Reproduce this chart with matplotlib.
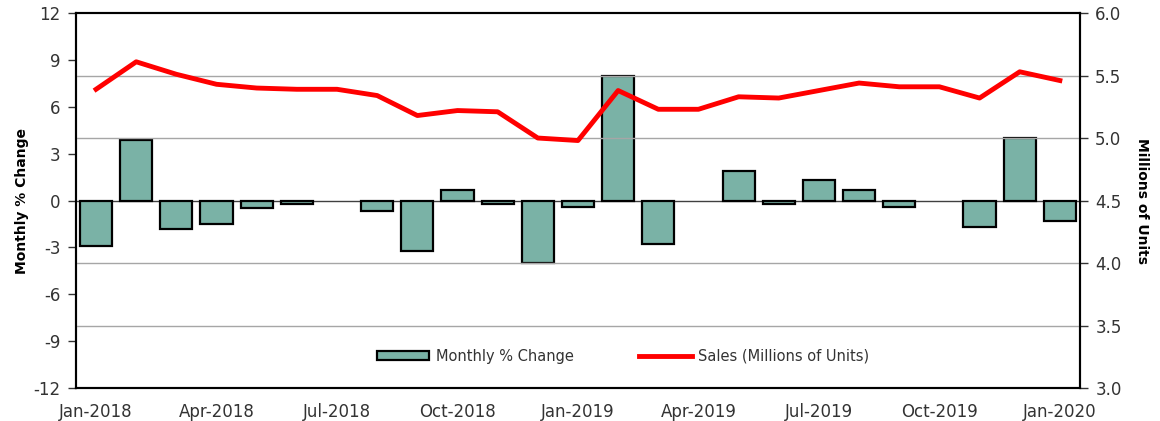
import matplotlib
matplotlib.use("agg")
import matplotlib.pyplot as plt
import numpy as np

# monthly data, Jan-2018 .. Jan-2020
months = ["Jan-2018", "Feb-2018", "Mar-2018", "Apr-2018", "May-2018", "Jun-2018",
          "Jul-2018", "Aug-2018", "Sep-2018", "Oct-2018", "Nov-2018", "Dec-2018",
          "Jan-2019", "Feb-2019", "Mar-2019", "Apr-2019", "May-2019", "Jun-2019",
          "Jul-2019", "Aug-2019", "Sep-2019", "Oct-2019", "Nov-2019", "Dec-2019",
          "Jan-2020"]
pct_change = [-2.9, 3.9, -1.8, -1.5, -0.5, -0.2, 0.0, -0.7, -3.2, 0.7, -0.2, -4.0,
              -0.4, 8.0, -2.8, 0.0, 1.9, -0.2, 1.3, 0.7, -0.4, 0.0, -1.7, 4.0, -1.3]
sales = [5.39, 5.61, 5.51, 5.43, 5.40, 5.39, 5.39, 5.34, 5.18, 5.22, 5.21, 5.00,
         4.98, 5.38, 5.23, 5.23, 5.33, 5.32, 5.38, 5.44, 5.41, 5.41, 5.32, 5.53, 5.46]

left_ticks = [-12, -9, -6, -3, 0, 3, 6, 9, 12]
right_ticks = [3.0, 3.5, 4.0, 4.5, 5.0, 5.5, 6.0]

plt.rcParams["font.family"] = ["DejaVu Sans"]

fig = plt.figure(figsize=(11.6, 4.21), dpi=100)
ax = fig.add_axes([0.0655, 0.0784, 0.8655, 0.8906])
ax2 = ax.twinx()

x = np.arange(len(months))
pct = np.array(pct_change)
nz = pct != 0  # zero months show no bar

# gridlines from right axis
for v in [3.5, 4.0, 5.0, 5.5]:
    ax2.axhline(v, color="#a6a6a6", lw=1.0, zorder=0)

bars = ax.bar(x[nz], pct[nz], width=0.8, color="#7ab2a6", edgecolor="black",
              linewidth=1.6, zorder=2, label="Monthly % Change")
ax.axhline(0, color="#404040", lw=1.0, zorder=1)

line, = ax2.plot(x, sales, color="#ff0000", lw=3.5, zorder=3,
                 label="Sales (Millions of Units)")

ax.set_xlim(-0.5, len(months) - 0.5)
ax.set_ylim(-12, 12)
ax.set_yticks(left_ticks)
ax.set_yticklabels([str(t) for t in left_ticks])
ax2.set_ylim(3.0, 6.0)
ax2.set_yticks(right_ticks)
ax2.set_yticklabels(["%.1f" % t for t in right_ticks])

ax.set_xticks(x[::3])
ax.set_xticklabels(months[::3])
ax.tick_params(axis="x", length=0, labelsize=12, colors="#333333", pad=11)
ax.tick_params(axis="y", length=6, width=1, labelsize=12, colors="#333333", pad=5)
ax2.tick_params(axis="y", length=6, width=1, labelsize=12, colors="#333333", pad=5)
for a in (ax, ax2):
    for s in a.spines.values():
        s.set_linewidth(1.5)
        s.set_color("black")

ax.set_ylabel("Monthly % Change", fontsize=10, fontweight="bold", labelpad=3)
ax2.set_ylabel("Millions of Units", fontsize=10, fontweight="bold",
               rotation=-90, labelpad=20)

leg = ax2.legend([bars, line], ["Monthly % Change", "Sales (Millions of Units)"],
                 loc="center", bbox_to_anchor=(0.545, 0.085), ncol=2, frameon=False,
                 fontsize=10.5, handlelength=3.6, handleheight=0.55,
                 columnspacing=4.5, handletextpad=0.45)
for t in leg.get_texts():
    t.set_color("#333333")

fig.savefig("out.png", dpi=100)
